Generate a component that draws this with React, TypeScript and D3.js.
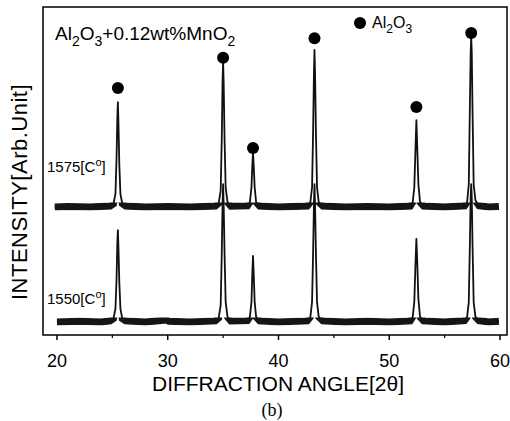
import React from 'react';
import * as d3 from 'd3';

const xTicks = [20, 30, 40, 50, 60];
const xMinorTicks = [25, 35, 45, 55];
const peakAngles = [25.5, 35.0, 37.7, 43.25, 52.45, 57.4];
const markerLevels = [75.3, 84.5, 57.0, 90.5, 69.5, 92.1];

const upperBase = 39;
const lowerBase = 4;

const upperTrace: [number, number][] = [
  [19.8, 39], [21.0, 39.2], [23.0, 39], [24.8, 39.3], [25.1, 40], [25.28, 43], [25.38, 54], [25.45, 66], [25.5, 71], [25.55, 65], [25.63, 52], [25.73, 43], [25.9, 40], [26.2, 39.3],
  [28.0, 39], [30, 39.2], [32, 39], [34.3, 39.3], [34.6, 40.2], [34.78, 44], [34.88, 60], [34.95, 77], [35.0, 83.2], [35.05, 77], [35.13, 60], [35.23, 45], [35.4, 40.5], [35.7, 39.3],
  [37.2, 39.4], [37.42, 40.5], [37.56, 45], [37.64, 52], [37.7, 55.5], [37.76, 52], [37.85, 45], [37.98, 40.5], [38.3, 39.3],
  [40, 39], [42.6, 39.3], [42.88, 40.5], [43.03, 45], [43.13, 63], [43.2, 80], [43.25, 86.9], [43.3, 80], [43.38, 62], [43.48, 45], [43.63, 40.5], [44.0, 39.3],
  [46, 39], [48, 39.2], [50, 39], [51.9, 39.3], [52.12, 40.5], [52.26, 45], [52.37, 57], [52.45, 65.5], [52.52, 58], [52.63, 46], [52.78, 40.5], [53.1, 39.3],
  [55, 39], [56.8, 39.4], [57.03, 40.5], [57.18, 46], [57.28, 70], [57.35, 86], [57.4, 90.9], [57.45, 86], [57.52, 68], [57.62, 46], [57.78, 41], [58.1, 39.4], [59, 39], [59.9, 39.2],
];

const lowerTrace: [number, number][] = [
  [20.0, 4], [22.0, 4.2], [24.0, 4], [24.8, 4.3], [25.1, 5], [25.28, 8], [25.38, 17], [25.45, 28], [25.5, 32], [25.55, 27], [25.63, 16], [25.73, 8], [25.9, 5], [26.2, 4.3],
  [28.0, 4], [29.9, 4.6], [30.1, 4.2], [32, 4], [34.3, 4.3], [34.6, 5.2], [34.78, 9], [34.88, 25], [34.95, 40], [35.0, 46], [35.05, 40], [35.13, 25], [35.23, 10], [35.4, 5.5], [35.7, 4.3],
  [37.2, 4.4], [37.42, 5.5], [37.56, 10], [37.64, 19], [37.7, 24.1], [37.76, 19], [37.85, 10], [37.98, 5.5], [38.3, 4.3],
  [40, 4], [42.6, 4.3], [42.88, 5.5], [43.03, 10], [43.13, 26], [43.2, 40], [43.25, 46], [43.3, 40], [43.38, 25], [43.48, 10], [43.63, 5.5], [44.0, 4.3],
  [46, 4], [48, 4.2], [50, 4], [51.9, 4.3], [52.12, 5.5], [52.26, 10], [52.37, 22], [52.45, 29.3], [52.52, 23], [52.63, 11], [52.78, 5.5], [53.1, 4.3],
  [55, 4], [56.8, 4.4], [57.03, 5.5], [57.18, 10], [57.28, 28], [57.35, 42], [57.4, 46], [57.45, 42], [57.52, 27], [57.62, 10], [57.78, 5.5], [58.1, 4.4], [59, 4], [59.9, 4.2],
];

const W = 510;
const H = 421;
const frame = { left: 43, right: 507, top: 7, bottom: 335 };

export default function App() {
  const x = d3.scaleLinear().domain([18.74, 60.63]).range([frame.left, frame.right]);
  const y = d3.scaleLinear().domain([0, 100]).range([frame.bottom, frame.top]);
  const line = d3.line<[number, number]>().x(d => x(d[0])).y(d => y(d[1]));
  const sans = "'Liberation Sans', Arial, sans-serif";

  const traces = [
    { id: 'up', data: upperTrace, base: upperBase },
    { id: 'lo', data: lowerTrace, base: lowerBase },
  ];

  return (
    <svg width={W} height={H} style={{ position: 'absolute', left: 0, top: 0, background: '#fff' }} fontFamily={sans}>
      <rect x={0} y={0} width={W} height={H} fill="#fff" />
      <defs>
        {traces.map(t => (
          <clipPath id={`band-${t.id}`} key={t.id}>
            <rect x={frame.left} y={y(t.base) - 4.5} width={frame.right - frame.left} height={8} />
          </clipPath>
        ))}
      </defs>
      {traces.map(t => (
        <g key={t.id}>
          <path d={line(t.data) || ''} fill="none" stroke="#111" strokeWidth={1.8} strokeLinejoin="round" />
          <path d={line(t.data) || ''} fill="none" stroke="#151515" strokeWidth={7} clipPath={`url(#band-${t.id})`} />
        </g>
      ))}
      {peakAngles.map((a, i) => (
        <circle key={i} cx={x(a)} cy={y(markerLevels[i])} r={6} fill="#000" />
      ))}
      <rect x={frame.left} y={frame.top} width={frame.right - frame.left} height={frame.bottom - frame.top} fill="none" stroke="#000" strokeWidth={1.5} />
      {xTicks.map(t => (
        <g key={t}>
          <line x1={x(t)} x2={x(t)} y1={frame.bottom} y2={frame.bottom + 5} stroke="#000" strokeWidth={1.5} />
          <text x={x(t)} y={367} fontSize={18} textAnchor="middle">{t}</text>
        </g>
      ))}
      {xMinorTicks.map(t => (
        <line key={t} x1={x(t)} x2={x(t)} y1={frame.bottom} y2={frame.bottom + 3} stroke="#000" strokeWidth={1.2} />
      ))}
      <text x={278} y={391} fontSize={21} textAnchor="middle">DIFFRACTION ANGLE[2θ]</text>
      <text x={272} y={416} fontSize={18} textAnchor="middle" fontFamily="'Liberation Serif', 'DejaVu Serif', serif">(b)</text>
      <text transform="translate(27,192) rotate(-90)" fontSize={22} textAnchor="middle" letterSpacing={0.5}>INTENSITY[Arb.Unit]</text>
      <text x={55} y={40} fontSize={19}>
        Al<tspan dy={6} fontSize={14}>2</tspan><tspan dy={-6}>O</tspan><tspan dy={6} fontSize={14}>3</tspan><tspan dy={-6}>+0.12wt%MnO</tspan><tspan dy={6} fontSize={14}>2</tspan>
      </text>
      <circle cx={360} cy={23} r={6} fill="#000" />
      <text x={372} y={28} fontSize={16}>
        Al<tspan dy={5} fontSize={12}>2</tspan><tspan dy={-5}>O</tspan><tspan dy={5} fontSize={12}>3</tspan>
      </text>
      <text x={47} y={172} fontSize={15}>1575[C<tspan dy={-6} fontSize={11}>o</tspan><tspan dy={6}>]</tspan></text>
      <text x={47} y={304} fontSize={15}>1550[C<tspan dy={-6} fontSize={11}>o</tspan><tspan dy={6}>]</tspan></text>
    </svg>
  );
}
